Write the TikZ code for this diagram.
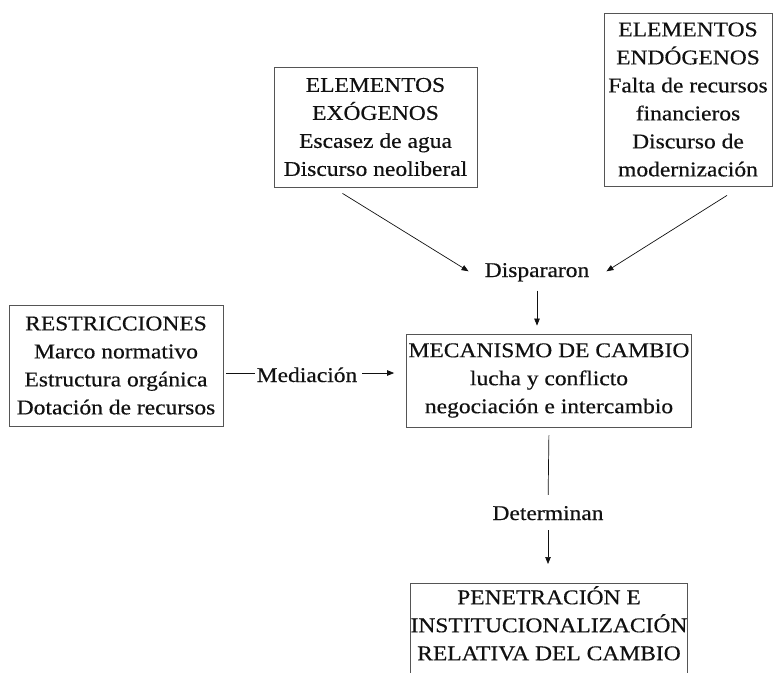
\documentclass[tikz,border=0pt]{standalone}
\usepackage{fontspec}
\setmainfont{Liberation Serif}[FakeStretch=1.12,FakeBold=0.4]
\usetikzlibrary{arrows.meta}
\definecolor{ink}{HTML}{111111}
\definecolor{boxline}{HTML}{555555}
\tikzset{
  txt/.style={font=\fontsize{21}{28}\selectfont, text=ink},
  boxnode/.style={txt, draw=boxline, line width=0.8pt, align=center, inner sep=2pt},
  lbl/.style={txt, inner sep=0pt},
  conn/.style={draw=ink, line width=0.7pt},
  arr/.style={conn, -{Triangle[length=7pt,width=5.5pt]}}
}
\begin{document}
\begin{tikzpicture}[x=1pt,y=-1pt]
\useasboundingbox (0,0) rectangle (781,672);
\clip (0,0) rectangle (781,672);
% boxes
\node[boxnode, minimum width=203pt, minimum height=120pt] (exo) at (375.5,127)
  {ELEMENTOS\\EXÓGENOS\\Escasez de agua\\Discurso neoliberal};
\node[boxnode, minimum width=168pt, minimum height=173pt] (endo) at (688,99.5)
  {ELEMENTOS\\ENDÓGENOS\\Falta de recursos\\financieros\\Discurso de\\modernización};
\node[boxnode, minimum width=214pt, minimum height=121pt] (restr) at (116,365.5)
  {RESTRICCIONES\\Marco normativo\\Estructura orgánica\\Dotación de recursos};
\node[boxnode, minimum width=272pt, minimum height=93pt] (meca) at (549,380.5)
  {MECANISMO DE CAMBIO\\lucha y conflicto\\negociación e intercambio};
\node[txt, align=center, minimum width=274pt, inner xsep=0pt, inner ysep=3pt, anchor=north, text depth=0pt] (pene) at (549,583)
  {PENETRACIÓN E\\INSTITUCIONALIZACIÓN\\RELATIVA DEL CAMBIO};
\draw[draw=boxline, line width=0.8pt] ([yshift=-20pt]pene.south west) -- (pene.north west) -- (pene.north east) -- ([yshift=-20pt]pene.south east);
% labels
\node[lbl, anchor=base] (disp) at (537,277) {Dispararon};
\node[lbl, anchor=base] (medi) at (307,382) {Mediación};
\node[lbl, anchor=base] (deter) at (548,520) {Determinan};
% connectors
\draw[arr] ([xshift=-33pt,yshift=-6pt]exo.south) -- ([xshift=-16pt,yshift=1pt]disp.west);
\draw[arr] ([xshift=39pt,yshift=-9pt]endo.south) -- ([xshift=17pt,yshift=1pt]disp.east);
\draw[arr, shorten <=9pt, shorten >=8pt] (disp.south) -- (disp.south |- meca.north);
\coordinate (mL) at ([yshift=9pt,xshift=-2pt]medi.base west);
\coordinate (mR) at ([yshift=9pt,xshift=5pt]medi.base east);
\draw[conn, shorten <=3pt] (mL -| restr.east) -- (mL);
\draw[arr, shorten >=12pt] (mR) -- (mR -| meca.west);
\draw[conn, shorten <=8pt, shorten >=11pt] (meca.south) -- (deter.north);
\draw[arr, shorten <=10pt, shorten >=19pt] (deter.south) -- (deter.south |- pene.north);
\end{tikzpicture}
\end{document}
